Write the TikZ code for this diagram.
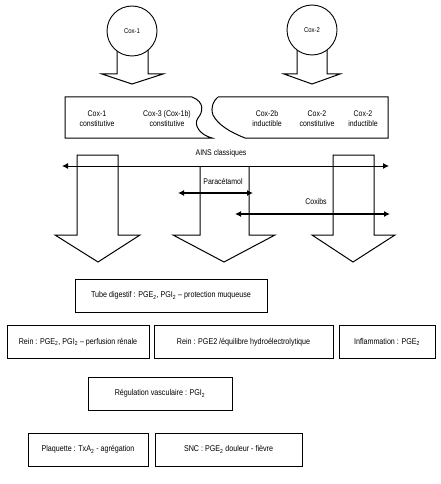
\documentclass[tikz,border=0pt]{standalone}
\usepackage{fontspec}
\setmainfont[FakeStretch=0.85]{Liberation Sans}
\usetikzlibrary{arrows.meta}

\begin{document}
\begin{tikzpicture}[x=1pt, y=-1pt,
    enzyme/.style={circle, draw, line width=0.9pt, fill=white, minimum size=50pt,
                   inner sep=0pt, font=\fontsize{7}{8}\selectfont},
    blockarrow/.style={draw, line width=1pt, fill=white, line join=miter},
    isoform/.style={align=center, font=\fontsize{8.2}{10}\selectfont},
    organ/.style={draw, line width=1pt, minimum height=33pt, inner sep=2pt,
                  font=\fontsize{8.4}{10}\selectfont},
    drug/.style={<->, line width=1.3pt, >={Latex[length=6pt,width=6pt]}},
    druglabel/.style={font=\fontsize{8.2}{10}\selectfont}
  ]
  \useasboundingbox (0,0) rectangle (440,484);

  % enzymes and their small arrows
  \draw[blockarrow] (117,40) -- (117,74) -- (102,74) -- (132,84) -- (163,74) -- (148,74) -- (148,40);
  \draw[blockarrow] (297,40) -- (297,74) -- (284,74) -- (312,84) -- (340,74) -- (327,74) -- (327,40);
  \node[enzyme] (cox1) at (132,31) {Cox-1};
  \node[enzyme] (cox2) at (312,30) {Cox-2};

  % isoform box, cut in two
  \draw[line width=1pt] (65,97) -- (192,97) .. controls (205,102) and (203,112) .. (198,118)
    .. controls (193,125) and (200,135) .. (212,138) -- (65,138) -- cycle;
  \draw[line width=1pt] (218,97) -- (388,97) -- (388,138) -- (245,138)
    .. controls (230,132) and (218,125) .. (213,115) .. controls (210,107) and (214,100) .. (218,97);
  \node[isoform] (c1)  at (97,119)  {Cox-1\\constitutive};
  \node[isoform] (c3)  at (167,119) {Cox-3 (Cox-1b)\\constitutive};
  \node[isoform] (c2b) at (267,119) {Cox-2b\\inductible};
  \node[isoform] (c2c) at (317,119) {Cox-2\\constitutive};
  \node[isoform] (c2i) at (363,119) {Cox-2\\inductible};

  % big arrows
  \draw[blockarrow] (77,155) -- (77,235) -- (55,235) -- (98,262) -- (140,235) -- (118,235) -- (118,155) -- cycle;
  \draw[blockarrow] (200,166) -- (200,235) -- (173,235) -- (224,262) -- (275,235) -- (249,235) -- (249,166);
  \draw[blockarrow] (333,155) -- (333,235) -- (312,235) -- (353,262) -- (395,235) -- (374,235) -- (374,155) -- cycle;

  % drugs
  \coordinate (ainsL) at (62,166);
  \coordinate (ainsR) at (389,166);
  \coordinate (paraL) at (178,193);
  \coordinate (paraR) at (253,193);
  \coordinate (coxibL) at (235,214);
  \coordinate (coxibR) at (390,214);
  \draw[drug, line width=1pt] (ainsL) -- (ainsR);
  \draw[drug] (paraL) -- (paraR);
  \draw[drug] (coxibL) -- (coxibR);
  \node[druglabel] (ains)  at (221,153) {AINS classiques};
  \node[druglabel] (para)  at (223,182) {Paracétamol};
  \node[druglabel] (coxib) at (316,202) {Coxibs};

  % organs
  \node[organ, minimum width=192pt] (tube)  at (171,295.5) {Tube digestif : PGE\textsubscript{2}, PGI\textsubscript{2} – protection muqueuse};
  \node[organ, minimum width=142pt] (rein1) at (78,342)    {Rein : PGE\textsubscript{2}, PGI\textsubscript{2} – perfusion rénale};
  \node[organ, minimum width=179pt] (rein2) at (243.5,342) {Rein : PGE2 /équilibre hydroélectrolytique};
  \node[organ, minimum width=96pt]  (infl)  at (387,342)   {Inflammation : PGE\textsubscript{2}};
  \node[organ, minimum width=144pt] (vasc)  at (160,393.5) {Régulation vasculaire : PGI\textsubscript{2}};
  \node[organ, minimum width=120pt] (plaq)  at (88,449.5)  {Plaquette : TxA\textsubscript{2} - agrégation};
  \node[organ, minimum width=147pt] (snc)   at (228.5,449.5) {SNC : PGE\textsubscript{2} douleur - fièvre};
\end{tikzpicture}
\end{document}
